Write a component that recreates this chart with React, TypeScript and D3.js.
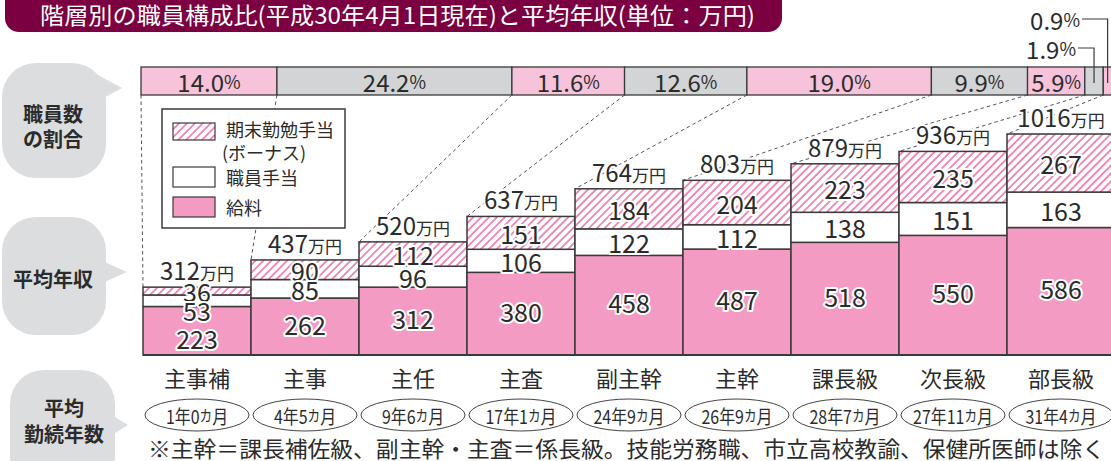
import React from 'react';
import * as d3 from 'd3';

const categories = ['主事補', '主事', '主任', '主査', '副主幹', '主幹', '課長級', '次長級', '部長級'];
const shares = [14.0, 24.2, 11.6, 12.6, 19.0, 9.9, 5.9, 1.9, 0.9];
const salary = [223, 262, 312, 380, 458, 487, 518, 550, 586];
const allowance = [53, 85, 96, 106, 122, 112, 138, 151, 163];
const bonus = [36, 90, 112, 151, 184, 204, 223, 235, 267];
const totals = [312, 437, 520, 637, 764, 803, 879, 936, 1016];
const tenure = ['1年0カ月', '4年5カ月', '9年6カ月', '17年1カ月', '24年9カ月', '26年9カ月', '28年7カ月', '27年11カ月', '31年4カ月'];
const legendItems = ['期末勤勉手当', '職員手当', '給料'];

const W = 1111;
const H = 461;
const FONT = '"Noto Sans CJK JP", "Noto Sans", sans-serif';
const PINK = '#f39bc2';
const PINK_LIGHT = '#f7c3da';
const GRAY = '#d3d4d6';
const STRIPE = '#f07aae';
const INK = '#2b2b2b';
const BORDER = '#3a3a3a';
const MAROON = '#7b0041';
const BUBBLE = '#dcdddf';

const halo = { stroke: '#fff', strokeWidth: 4, paintOrder: 'stroke', strokeLinejoin: 'round' } as any;

export default function App() {
  const x = d3.scaleBand<string>().domain(categories).range([143, 143 + 108 * categories.length]).padding(0);
  const y = d3.scaleLinear().domain([0, 1016]).range([355, 134]);
  const xr = d3.scaleLinear().domain([0, 100]).range([141, 1112]);
  const cum = d3.cumsum(shares);
  const starts = shares.map((s, i) => cum[i] - s);
  const bw = x.bandwidth();

  const rTop = 67;
  const rBot = 95;

  const stacks = categories.map((c, i) => {
    const s0 = 0, s1 = salary[i];
    const a1 = s1 + allowance[i];
    const b1 = a1 + bonus[i];
    return { c, i, s0, s1, a1, b1 };
  });

  // label offsets for the crowded first bar
  const allowShift = (i: number) => (i === 0 ? 9 : 0);
  const salShift = (i: number) => (i === 0 ? 7 : -3);

  const bubble = (bx: number, by: number, bw2: number, bh: number, tip: [number, number]) => (
    <g>
      <rect x={bx} y={by} width={bw2} height={bh} rx={34} ry={34} fill={BUBBLE} />
      <path d={`M${bx + bw2 - 8},${tip[1] - 13} L${tip[0]},${tip[1]} L${bx + bw2 - 8},${tip[1] + 13} Z`} fill={BUBBLE} />
    </g>
  );

  const pct = (v: number) => v.toFixed(1);

  return (
    <svg width={W} height={H} style={{ position: 'absolute', left: 0, top: 0, fontFamily: FONT }}>
      <defs>
        <pattern id="hatch" patternUnits="userSpaceOnUse" width={5.6} height={5.6} patternTransform="rotate(45)">
          <rect width={5.6} height={5.6} fill="#fff" />
          <line x1={1} y1={0} x2={1} y2={5.6} stroke={STRIPE} strokeWidth={1.7} />
        </pattern>
      </defs>
      <rect width={W} height={H} fill="#fff" />

      {/* title banner */}
      <rect x={5} y={-20} width={777} height={52} rx={14} fill={MAROON} />
      <text x={40} y={14} dominantBaseline="central" fill="#fff" fontSize={23} fontWeight={400} textLength={715} lengthAdjust="spacingAndGlyphs">
        階層別の職員構成比(平成30年4月1日現在)と平均年収(単位：万円)
      </text>

      {/* bubbles */}
      {bubble(2, 63, 104, 115, [122, 88])}
      <text x={53} y={113} textAnchor="middle" dominantBaseline="central" fontSize={20} fontWeight={700} fill={INK}>職員数</text>
      <text x={53} y={138} textAnchor="middle" dominantBaseline="central" fontSize={20} fontWeight={700} fill={INK}>の割合</text>
      {bubble(2, 217, 104, 118, [127, 272])}
      <text x={53} y={278} textAnchor="middle" dominantBaseline="central" fontSize={20} fontWeight={700} fill={INK}>平均年収</text>
      {bubble(10, 370, 105, 120, [128, 425])}
      <text x={64} y={407} textAnchor="middle" dominantBaseline="central" fontSize={20} fontWeight={700} fill={INK}>平均</text>
      <text x={64} y={433} textAnchor="middle" dominantBaseline="central" fontSize={20} fontWeight={700} fill={INK}>勤続年数</text>

      {/* ratio bar */}
      {shares.map((s, i) => (
        <rect key={'r' + i} x={xr(starts[i])} y={rTop} width={xr(cum[i]) - xr(starts[i])} height={rBot - rTop}
          fill={i % 2 === 0 ? PINK_LIGHT : GRAY} stroke={BORDER} strokeWidth={1.3} />
      ))}
      {shares.map((s, i) => {
        const cx = (xr(starts[i]) + xr(cum[i])) / 2;
        if (i < 7) {
          return (
            <text key={'rl' + i} x={cx} y={rTop + 14} textAnchor="middle" dominantBaseline="central" fill={INK}>
              <tspan fontSize={24}>{pct(s)}</tspan><tspan fontSize={18}>%</tspan>
            </text>
          );
        }
        const ly = i === 7 ? 48 : 19;
        return (
          <g key={'rl' + i}>
            <text x={i === 7 ? 1076 : 1080} y={ly} textAnchor="end" dominantBaseline="central" fill={INK}>
              <tspan fontSize={24}>{pct(s)}</tspan><tspan fontSize={18}>%</tspan>
            </text>
            <path d={`M${i === 7 ? 1078 : 1082},${ly} H${cx} V${rBot - 12}`} fill="none" stroke={BORDER} strokeWidth={1.2} />
          </g>
        );
      })}

      {/* dashed connectors */}
      {stacks.map((d) => (
        <line key={'dl' + d.i} x1={xr(starts[d.i])} y1={rBot} x2={x(d.c)!} y2={y(d.b1)}
          stroke="#555" strokeWidth={1} strokeDasharray="3.5,3" />
      ))}

      {/* bars */}
      {stacks.map((d) => {
        const bx = x(d.c)!;
        return (
          <g key={'b' + d.i}>
            <rect x={bx} y={y(d.s1)} width={bw} height={y(d.s0) - y(d.s1)} fill={PINK} stroke={BORDER} strokeWidth={1.5} />
            <rect x={bx} y={y(d.a1)} width={bw} height={y(d.s1) - y(d.a1)} fill="#fff" stroke={BORDER} strokeWidth={1.5} />
            <rect x={bx} y={y(d.b1)} width={bw} height={y(d.a1) - y(d.b1)} fill="url(#hatch)" stroke={BORDER} strokeWidth={1.5} />
          </g>
        );
      })}
      <line x1={143} x2={W} y1={y(0)} y2={y(0)} stroke={BORDER} strokeWidth={2} />

      {/* value labels */}
      {stacks.map((d) => {
        const cx = x(d.c)! + bw / 2;
        return (
          <g key={'v' + d.i} fill={INK} fontSize={25} fontWeight={400} textAnchor="middle" dominantBaseline="central">
            <text x={cx} y={(y(d.a1) + y(d.b1)) / 2} {...halo}>{bonus[d.i]}</text>
            <text x={cx} y={(y(d.s1) + y(d.a1)) / 2 + allowShift(d.i)} {...halo}>{allowance[d.i]}</text>
            <text x={cx} y={(y(d.s0) + y(d.s1)) / 2 + salShift(d.i)} {...halo}>{salary[d.i]}</text>
            <text x={cx} y={y(d.b1) - 7} dominantBaseline="auto" {...halo}>
              <tspan fontSize={24}>{totals[d.i]}</tspan><tspan fontSize={17}>万円</tspan>
            </text>
          </g>
        );
      })}

      {/* legend */}
      <rect x={162} y={109} width={183} height={119} fill="#fff" stroke={BORDER} strokeWidth={1.5} />
      <rect x={173} y={123} width={42} height={17} fill="url(#hatch)" stroke={BORDER} strokeWidth={1.2} />
      <rect x={173} y={167} width={42} height={20} fill="#fff" stroke={BORDER} strokeWidth={1.2} />
      <rect x={173} y={197} width={42} height={20} fill={PINK} stroke={BORDER} strokeWidth={1.2} />
      <g fill={INK} fontSize={18} dominantBaseline="central">
        <text x={226} y={129}>{legendItems[0]}</text>
        <text x={222} y={152}>(ボーナス)</text>
        <text x={226} y={177}>{legendItems[1]}</text>
        <text x={226} y={207}>{legendItems[2]}</text>
      </g>

      {/* categories & tenure */}
      {categories.map((c, i) => {
        const cx = x(c)! + bw / 2;
        const parts = tenure[i].split('カ');
        return (
          <g key={'c' + i}>
            <text x={cx} y={377} textAnchor="middle" dominantBaseline="central" fontSize={22} fill={INK}>{c}</text>
            <ellipse cx={cx} cy={415} rx={52} ry={16} fill="#fff" stroke="#444" strokeWidth={1} />
            <g transform={`translate(${cx},415) scale(0.84,1)`}>
              <text x={0} y={0} textAnchor="middle" dominantBaseline="central" fontSize={19} fill={INK}>
                <tspan>{parts[0]}</tspan><tspan fontSize={15}>カ</tspan><tspan>{parts[1]}</tspan>
              </text>
            </g>
          </g>
        );
      })}

      <text x={148} y={447} dominantBaseline="central" fontSize={22} fill={INK} textLength={957} lengthAdjust="spacingAndGlyphs">
        ※主幹＝課長補佐級、副主幹・主査＝係長級。技能労務職、市立高校教諭、保健所医師は除く
      </text>
    </svg>
  );
}
